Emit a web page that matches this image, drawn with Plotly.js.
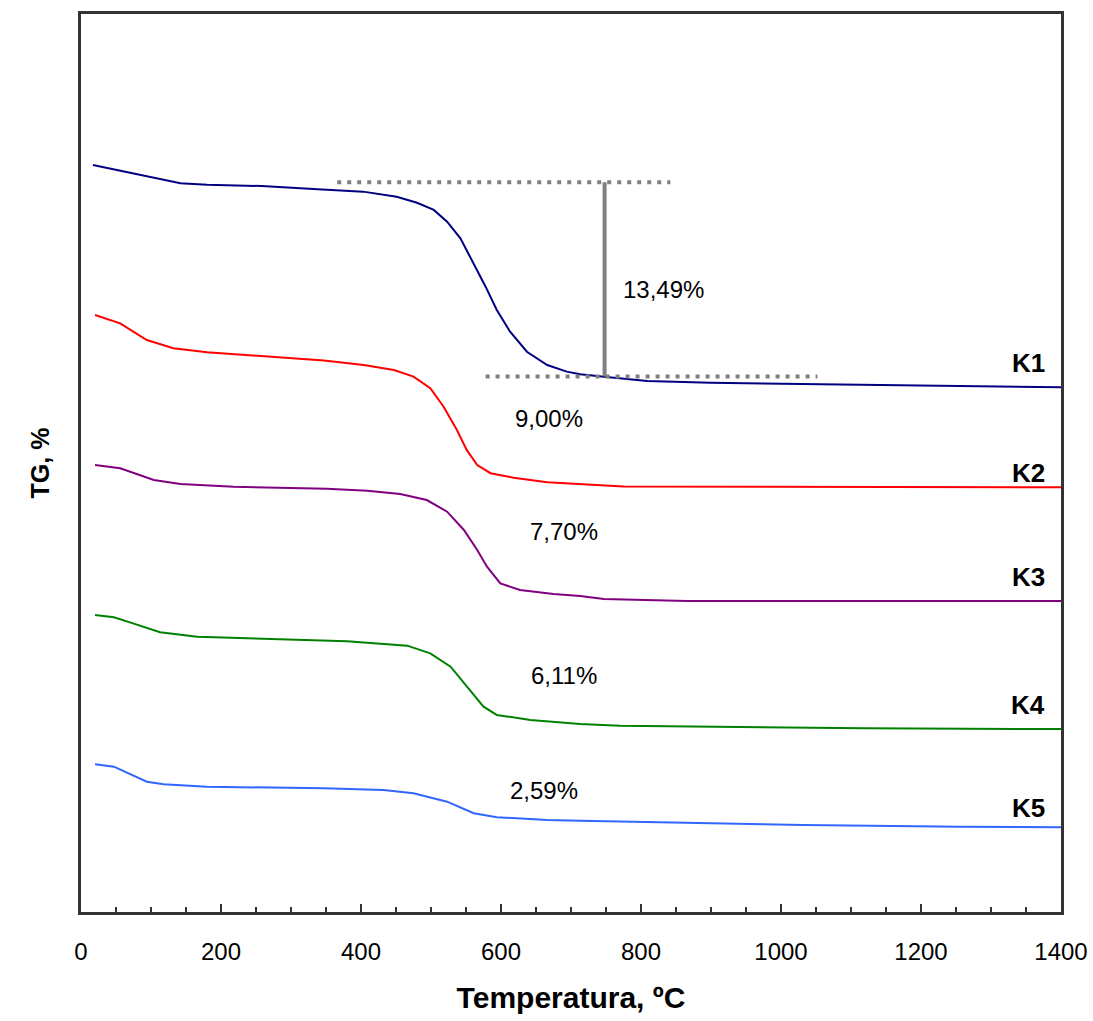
<!DOCTYPE html>
<html>
<head>
<meta charset="utf-8">
<script src="https://cdn.plot.ly/plotly-3.0.1.min.js"></script>
<style>
  html, body { margin: 0; padding: 0; background: #fff; }
  #chart { width: 1093px; height: 1021px; }
</style>
</head>
<body>
<div id="chart"></div>
<script>
// Thermogravimetric curves (TG, % of initial mass) versus temperature, °C
const samples = ["K1", "K2", "K3", "K4", "K5"];
const colors = ["#000080", "#FF0000", "#800080", "#008000", "#3366FF"];
// vertical shift applied to each curve so they stack without overlapping
const shift = [-48.125, -58.54, -68.96, -79.375, -89.74];

const tK1 = [17, 94, 142, 180, 258, 332, 403, 451, 480, 504, 523, 542, 561, 578, 594, 613, 637, 666, 694, 713, 747, 809, 899, 1099, 1366, 1400];
const tgK1 = [100, 99.19, 98.73, 98.63, 98.54, 98.33, 98.15, 97.80, 97.38, 96.88, 96.06, 94.91, 93.17, 91.55, 89.93, 88.42, 87.03, 86.11, 85.65, 85.47, 85.30, 85.00, 84.88, 84.77, 84.60, 84.56];

const tK2 = [20, 56, 94, 132, 180, 270, 347, 404, 447, 475, 499, 518, 537, 551, 566, 585, 618, 666, 713, 775, 1400];
const tgK2 = [100, 99.42, 98.26, 97.69, 97.41, 97.10, 96.83, 96.53, 96.18, 95.72, 94.91, 93.63, 92.01, 90.63, 89.58, 89.01, 88.70, 88.38, 88.26, 88.08, 88.04];

const tK3 = [20, 56, 104, 142, 218, 351, 409, 456, 494, 523, 547, 566, 580, 599, 627, 675, 713, 747, 866, 1400];
const tgK3 = [100, 99.77, 98.96, 98.68, 98.49, 98.35, 98.21, 97.99, 97.57, 96.76, 95.49, 94.10, 92.94, 91.78, 91.32, 91.04, 90.90, 90.69, 90.56, 90.56];

const tK4 = [20, 47, 70, 113, 166, 275, 380, 466, 499, 528, 551, 575, 594, 642, 713, 770, 1118, 1400];
const tgK4 = [100, 99.84, 99.49, 98.80, 98.49, 98.33, 98.17, 97.87, 97.34, 96.41, 95.02, 93.63, 93.06, 92.71, 92.43, 92.31, 92.13, 92.08];

const tK5 = [20, 47, 94, 118, 180, 347, 432, 475, 523, 561, 594, 666, 713, 789, 1032, 1256, 1400];
const tgK5 = [100, 99.83, 98.79, 98.61, 98.44, 98.33, 98.21, 97.99, 97.40, 96.60, 96.32, 96.13, 96.08, 96.01, 95.78, 95.66, 95.62];

// main-step mass losses and where their labels sit
const lossText = ["13,49%", "9,00%", "7,70%", "6,11%", "2,59%"];
const lossLabelT = [832, 668, 690, 690, 661];
const lossLabelY = [43.26, 34.24, 26.39, 16.39, 8.47];

// sample name positions at the right edge
const nameLabelY = [38.13, 30.49, 23.26, 14.375, 7.22];

// K1 step marker: upper plateau level (TG, %) and span of the guide lines
const k1Upper = 98.8;
const k1Loss = 13.49;
const k1MarkerT = 748;
const upperGuide = [366, 842];
const lowerGuide = [578, 1052];

const temps = [tK1, tK2, tK3, tK4, tK5];
const tgs = [tgK1, tgK2, tgK3, tgK4, tgK5];

const FONT = "Liberation Sans, Arial, sans-serif";

const traces = samples.map((name, i) => ({
  x: temps[i],
  y: tgs[i].map(v => v + shift[i]),
  type: "scatter",
  mode: "lines",
  name: name,
  line: { color: colors[i], width: 2, shape: "linear" },
  hoverinfo: "x+name"
}));

const yTop = k1Upper + shift[0];
const yBot = yTop - k1Loss;

const shapes = [
  { type: "line", xref: "x", yref: "y", x0: upperGuide[0], x1: upperGuide[1], y0: yTop, y1: yTop,
    line: { color: "#808080", width: 4, dash: "4px,6px" } },
  { type: "line", xref: "x", yref: "y", x0: lowerGuide[0], x1: lowerGuide[1], y0: yBot, y1: yBot,
    line: { color: "#808080", width: 4, dash: "4px,6px" } },
  { type: "line", xref: "x", yref: "y", x0: k1MarkerT, x1: k1MarkerT, y0: yTop, y1: yBot,
    line: { color: "#808080", width: 4 } }
];

const annotations = [];
lossText.forEach((t, i) => {
  annotations.push({
    x: lossLabelT[i], y: lossLabelY[i], xref: "x", yref: "y",
    text: t, showarrow: false,
    font: { family: FONT, size: 24, color: "#000" }
  });
});
samples.forEach((s, i) => {
  annotations.push({
    x: 1380, y: nameLabelY[i], xref: "x", yref: "y",
    xanchor: "right", text: "<b>" + s + "</b>", showarrow: false,
    font: { family: FONT, size: 26, color: "#000" }
  });
});

const layout = {
  width: 1093,
  height: 1021,
  margin: { l: 81, r: 32, t: 14, b: 109 },
  paper_bgcolor: "#ffffff",
  plot_bgcolor: "#ffffff",
  showlegend: false,
  font: { family: FONT, size: 24, color: "#000" },
  xaxis: {
    range: [0, 1400],
    tickvals: [0, 200, 400, 600, 800, 1000, 1200, 1400],
    ticktext: ["0", "200", "400", "600", "800", "1000", "1200", "1400"],
    ticks: "inside",
    ticklen: 8,
    tickwidth: 2,
    tickcolor: "#333333",
    minor: { dtick: 50, tick0: 0, ticks: "inside", ticklen: 5, tickwidth: 1.5, tickcolor: "#333333", showgrid: false },
    showgrid: false,
    zeroline: false,
    showline: true,
    linecolor: "#333333",
    linewidth: 3,
    mirror: true,
    ticklabelstandoff: 16,
    tickfont: { family: FONT, size: 24, color: "#000" },
    title: { text: "<b>Temperatura, ºC</b>", font: { family: FONT, size: 30, color: "#000" }, standoff: 24 }
  },
  yaxis: {
    range: [0, 62.36],
    showticklabels: false,
    ticks: "",
    showgrid: false,
    zeroline: false,
    showline: true,
    linecolor: "#333333",
    linewidth: 3,
    mirror: true,
    title: { text: "<b>TG, %</b>", font: { family: FONT, size: 25, color: "#000" }, standoff: 22 }
  },
  shapes: shapes,
  annotations: annotations
};

Plotly.newPlot("chart", traces, layout, { displayModeBar: false, staticPlot: true });
</script>
</body>
</html>
